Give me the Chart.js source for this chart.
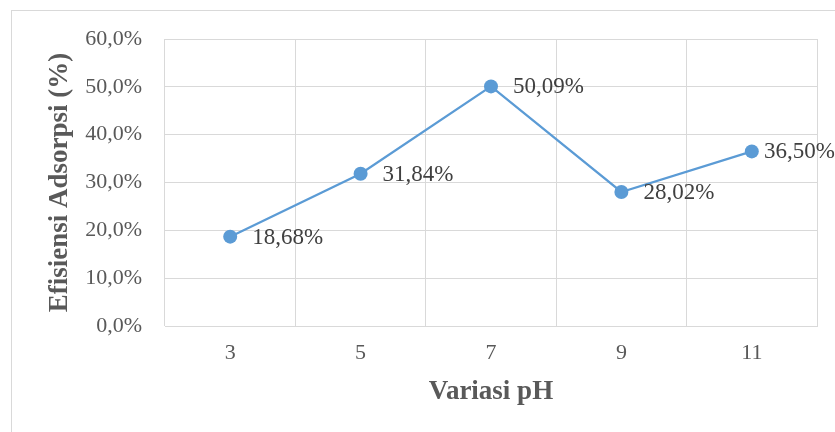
<!DOCTYPE html>
<html>
<head>
<meta charset="utf-8">
<script src="https://cdn.jsdelivr.net/npm/chart.js@4"></script>
<style>
  html, body { margin: 0; padding: 0; background: #fff; }
  #wrap { width: 835px; height: 432px; position: relative; }
</style>
</head>
<body>
<div id="wrap"><canvas id="chart" width="835" height="432"></canvas></div>
<script>
// data
const phLevels = ['3', '5', '7', '9', '11'];
const efficiency = [18.68, 31.84, 50.09, 28.02, 36.50];
const yTicks = [0, 10, 20, 30, 40, 50, 60];

const fmtTick = v => v.toFixed(1).replace('.', ',') + '%';
const fmtLabel = v => v.toFixed(2).replace('.', ',') + '%';

// thin gray frame around the chart area (like the Excel chart box)
const frame = {
  id: 'frame',
  beforeDraw(chart) {
    const ctx = chart.ctx;
    ctx.save();
    ctx.strokeStyle = '#d9d9d9';
    ctx.lineWidth = 1;
    ctx.strokeRect(11.5, 10.5, 1000, 1000);
    ctx.restore();
  }
};

// value labels to the right of each point
const valueLabels = {
  id: 'valueLabels',
  afterDatasetsDraw(chart) {
    const ctx = chart.ctx;
    const meta = chart.getDatasetMeta(0);
    ctx.save();
    ctx.font = '23px "Liberation Serif", "Times New Roman", serif';
    ctx.fillStyle = '#404040';
    ctx.textBaseline = 'middle';
    ctx.textAlign = 'left';
    meta.data.forEach((pt, i) => {
      const txt = fmtLabel(efficiency[i]);
      const w = ctx.measureText(txt).width;
      let x = pt.x + 22;
      if (x + w > chart.width) x = chart.width - w;
      ctx.fillText(txt, x, pt.y + 1);
    });
    ctx.restore();
  }
};

new Chart(document.getElementById('chart'), {
  type: 'line',
  data: {
    labels: phLevels,
    datasets: [{
      data: efficiency,
      borderColor: '#5b9bd5',
      backgroundColor: '#5b9bd5',
      borderWidth: 2.25,
      pointRadius: 7,
      pointHoverRadius: 7,
      pointBorderWidth: 0,
      tension: 0
    }]
  },
  options: {
    responsive: false,
    animation: false,
    layout: { padding: { left: 0, right: 18, top: 39, bottom: 0 } },
    plugins: {
      legend: { display: false },
      tooltip: { enabled: false }
    },
    scales: {
      x: {
        offset: true,
        grid: { offset: true, color: '#d9d9d9', lineWidth: 1, drawTicks: false },
        border: { color: '#d9d9d9', width: 1 },
        ticks: {
          color: '#595959',
          padding: 14,
          font: { family: '"Liberation Serif", "Times New Roman", serif', size: 22 }
        },
        title: {
          display: true,
          text: 'Variasi pH',
          color: '#595959',
          font: { family: '"Liberation Serif", "Times New Roman", serif', size: 27, weight: 'bold' },
          padding: { top: 0, bottom: 24 }
        },
        afterFit: s => { s.height = 106; }
      },
      y: {
        min: 0,
        max: 60,
        afterBuildTicks: s => { s.ticks = yTicks.map(v => ({ value: v })); },
        grid: { color: '#d9d9d9', lineWidth: 1, drawTicks: false },
        border: { display: false },
        ticks: {
          color: '#595959',
          padding: 23,
          callback: v => fmtTick(v),
          font: { family: '"Liberation Serif", "Times New Roman", serif', size: 22 }
        },
        title: {
          display: true,
          text: 'Efisiensi Adsorpsi (%)',
          color: '#595959',
          font: { family: '"Liberation Serif", "Times New Roman", serif', size: 27, weight: 'bold' },
          padding: { top: 44, bottom: 0 }
        },
        afterFit: s => { s.width = 165; }
      }
    }
  },
  plugins: [frame, valueLabels]
});
</script>
</body>
</html>
